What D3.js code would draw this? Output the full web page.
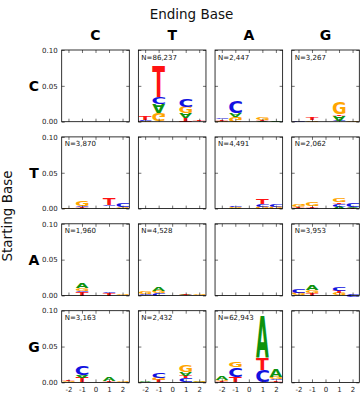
<!DOCTYPE html>
<html><head><meta charset="utf-8">
<script src="https://cdn.jsdelivr.net/npm/d3@7"></script>
<style>body{margin:0;background:#fff}</style>
</head><body>
<svg id="c" width="364" height="400"></svg>
<script>
// ---------- data ----------
const startBases = ["C","T","A","G"];   // rows
const endBases   = ["C","T","A","G"];   // columns
const positions  = [-2,-1,1,2];
const xTickValues = [-2,-1,0,1,2];
const yTickValues = [0,0.05,0.10];
const counts = [
  [null, 86237, 2447, 3267],
  [3870, null, 4491, 2062],
  [1960, 4528, null, 3953],
  [3163, 2432, 62943, null]
];
const baseColors = {A:"#0e920e", C:"#1212e0", G:"#ffa500", T:"#ff1212"};
// each stack listed bottom -> top : [base, height, flipped]
const logoCT = [
  [["G",0.0015,false],["C",0.001,false],["T",0.0045,false]],
  [["G",0.012,true],["A",0.0125,true],["C",0.0093,false],["T",0.044,false]],
  [["T",0.005,true],["A",0.007,true],["G",0.009,false],["C",0.0102,false]],
  [["C",0.0005,false],["T",0.002,false]]
];
const logoCA = [
  [["G",0.001,false],["T",0.0015,true],["C",0.002,true]],
  [["G",0.007,true],["A",0.005,true],["C",0.016,false]],
  [["A",0.0008,false],["T",0.0018,false],["G",0.0035,false]],
  [["A",0.0008,false]]
];
const logoCG = [
  [["C",0.0015,false]],
  [["G",0.0025,false],["T",0.003,false]],
  [["C",0.002,true],["A",0.0065,true],["T",0.0015,false],["G",0.017,false]],
  [["G",0.0008,false]]
];
const logoTC = [
  [["G",0.001,false]],
  [["A",0.0015,false],["T",0.001,false],["C",0.0015,false],["G",0.007,false]],
  [["G",0.002,false],["C",0.0025,true],["T",0.0085,false]],
  [["A",0.001,false],["G",0.002,false],["C",0.005,true]]
];
const logoTA = [
  [["C",0.0005,false]],
  [["A",0.0015,false],["G",0.001,false],["C",0.001,false]],
  [["G",0.0035,false],["C",0.003,true],["T",0.0065,false]],
  [["G",0.003,false],["C",0.004,true]]
];
const logoTG = [
  [["A",0.001,false],["T",0.002,false],["G",0.004,true]],
  [["C",0.001,false],["T",0.002,false],["G",0.006,false]],
  [["A",0.003,false],["C",0.004,true],["T",0.002,false],["G",0.005,false]],
  [["T",0.001,false],["A",0.002,false],["C",0.0055,true]]
];
const logoAC = [
  [["G",0.0005,false]],
  [["T",0.0046,false],["C",0.0023,true],["G",0.003,false],["A",0.008,false]],
  [["T",0.003,false],["C",0.0023,true]],
  [["G",0.0012,false]]
];
const logoAT = [
  [["C",0.0018,true],["G",0.003,false]],
  [["C",0.0033,true],["G",0.0028,false],["A",0.0056,false]],
  [["A",0.0012,false],["T",0.0025,false]],
  [["G",0.0012,false]]
];
const logoAG = [
  [["G",0.0028,false],["T",0.0023,false],["C",0.0046,true]],
  [["T",0.0037,false],["G",0.0042,false],["A",0.0065,false]],
  [["G",0.0028,false],["T",0.0033,false],["C",0.0056,true]],
  [["C",0.0028,true]]
];
const logoGC = [
  [["G",0.0015,false],["T",0.0018,false]],
  [["T",0.0079,false],["A",0.0028,true],["C",0.0126,false]],
  [["T",0.0023,false],["A",0.0046,false]],
  [["G",0.0023,false]]
];
const logoGT = [
  [["A",0.0014,false]],
  [["T",0.0033,false],["G",0.0028,false],["C",0.0065,true]],
  [["C",0.006,true],["T",0.0033,false],["A",0.0046,true],["G",0.0093,false]],
  [["A",0.001,false],["G",0.0012,false]]
];
const logoGA = [
  [["T",0.0015,false],["G",0.0018,false],["A",0.0056,false]],
  [["T",0.0079,false],["C",0.013,true],["G",0.0079,false]],
  [["C",0.0172,true],["T",0.0163,false],["A",0.058,false]],
  [["T",0.0023,false],["C",0.0023,true],["G",0.0033,false],["A",0.0116,false]]
];
const logos = [
  [null,   logoCT, logoCA, logoCG],
  [logoTC, null,   logoTA, logoTG],
  [logoAC, logoAT, null,   logoAG],
  [logoGC, logoGT, logoGA, null]
];

// ---------- layout ----------
const svg = d3.select("#c");
const left0 = 61.7, colPitch = 76.67, pw = 67.6;
const top0 = 50, rowPitch = 86.9, ph = 71.7;
const FONT = "DejaVu Sans";
const x = d3.scaleLinear().domain([-2.5, 2.5]).range([0, pw]);
const y = d3.scaleLinear().domain([0, 0.1]).range([ph, 0]);
const band = x(1) - x(0);
const letterW = band * 0.94;

// glyph metrics for tight letter fitting
const ctx = document.createElement("canvas").getContext("2d");
const FS = 100;
ctx.font = `bold ${FS}px "${FONT}"`;
const metrics = {};
for (const b of "ACGT") {
  const m = ctx.measureText(b);
  metrics[b] = {l: m.actualBoundingBoxLeft, r: m.actualBoundingBoxRight,
                a: m.actualBoundingBoxAscent, d: m.actualBoundingBoxDescent};
}
function drawLetter(g, b, x0, yTop, w, h, flip) {
  if (h <= 0) return;
  const m = metrics[b];
  const sx = w / (m.l + m.r), sy = h / (m.a + m.d);
  const t = flip
    ? `translate(${x0},${yTop + h}) scale(${sx},${-sy}) translate(${m.l},${m.a})`
    : `translate(${x0},${yTop}) scale(${sx},${sy}) translate(${m.l},${m.a})`;
  g.append("text").attr("transform", t)
    .attr("font-family", FONT).attr("font-weight", "bold").attr("font-size", FS)
    .attr("fill", baseColors[b]).text(b);
}

// titles
svg.append("text").attr("x", 191.5).attr("y", 18.5).attr("text-anchor", "middle")
  .attr("font-family", FONT).attr("font-size", 13.5).attr("fill", "#111").text("Ending Base");
svg.append("text").attr("transform", `translate(12,216) rotate(-90)`).attr("text-anchor", "middle")
  .attr("font-family", FONT).attr("font-size", 13.5).attr("fill", "#111").text("Starting Base");

endBases.forEach((b, j) => {
  svg.append("text").attr("x", left0 + j * colPitch + pw / 2).attr("y", 40)
    .attr("text-anchor", "middle").attr("font-family", FONT).attr("font-weight", "bold")
    .attr("font-size", 14).attr("fill", "#000").text(b);
});
startBases.forEach((b, i) => {
  svg.append("text").attr("x", 34).attr("y", top0 + i * rowPitch + ph / 2 + 5)
    .attr("text-anchor", "middle").attr("font-family", FONT).attr("font-weight", "bold")
    .attr("font-size", 14).attr("fill", "#000").text(b);
});

const fmtN = d3.format(",");
const fmtX = d => String(d);          // plain hyphen minus, as in the reference
for (let i = 0; i < 4; i++) {
  for (let j = 0; j < 4; j++) {
    const g = svg.append("g").attr("transform", `translate(${left0 + j * colPitch},${top0 + i * rowPitch})`);
    // logo stacks
    const logo = logos[i][j];
    if (logo) {
      const lg = g.append("g");
      logo.forEach((stack, k) => {
        const p = positions[k];
        let cum = 0;
        const x0 = x(p) - letterW / 2;
        stack.forEach(([b, h, flip]) => {
          const yBottom = y(cum), yTop = y(cum + h);
          drawLetter(lg, b, x0, yTop, letterW, yBottom - yTop, flip);
          cum += h;
        });
      });
      g.append("text").attr("x", 3).attr("y", 9.5).attr("font-family", FONT)
        .attr("font-size", 7).attr("fill", "#111").text("N=" + fmtN(counts[i][j]));
    }
    // axes (inward ticks on all sides)
    const yl = d3.axisLeft(y).tickValues(yTickValues).tickSizeInner(-3).tickSizeOuter(0).tickPadding(4)
      .tickFormat(d3.format(".2f"));
    const yr = d3.axisRight(y).tickValues(yTickValues).tickSizeInner(-3).tickSizeOuter(0);
    const xb = d3.axisBottom(x).tickValues(xTickValues).tickSizeInner(-3).tickSizeOuter(0).tickPadding(5)
      .tickFormat(fmtX);
    const xt = d3.axisTop(x).tickValues(xTickValues).tickSizeInner(-3).tickSizeOuter(0);
    const aL = g.append("g").call(yl);
    const aR = g.append("g").attr("transform", `translate(${pw},0)`).call(yr);
    const aB = g.append("g").attr("transform", `translate(0,${ph})`).call(xb);
    const aT = g.append("g").call(xt);
    if (j !== 0) aL.selectAll("text").remove();
    if (i !== 3) aB.selectAll("text").remove();
    aR.selectAll("text").remove();
    aT.selectAll("text").remove();
    [aL, aR, aB, aT].forEach(a => {
      a.select(".domain").remove();
      a.selectAll("line").attr("stroke", "#333").attr("stroke-width", 0.7);
      a.selectAll("text").attr("font-family", FONT).attr("font-size", 7).attr("fill", "#222");
    });
    g.append("rect").attr("width", pw).attr("height", ph).attr("fill", "none")
      .attr("stroke", "#000").attr("stroke-width", 0.8);
  }
}
</script>
</body></html>
